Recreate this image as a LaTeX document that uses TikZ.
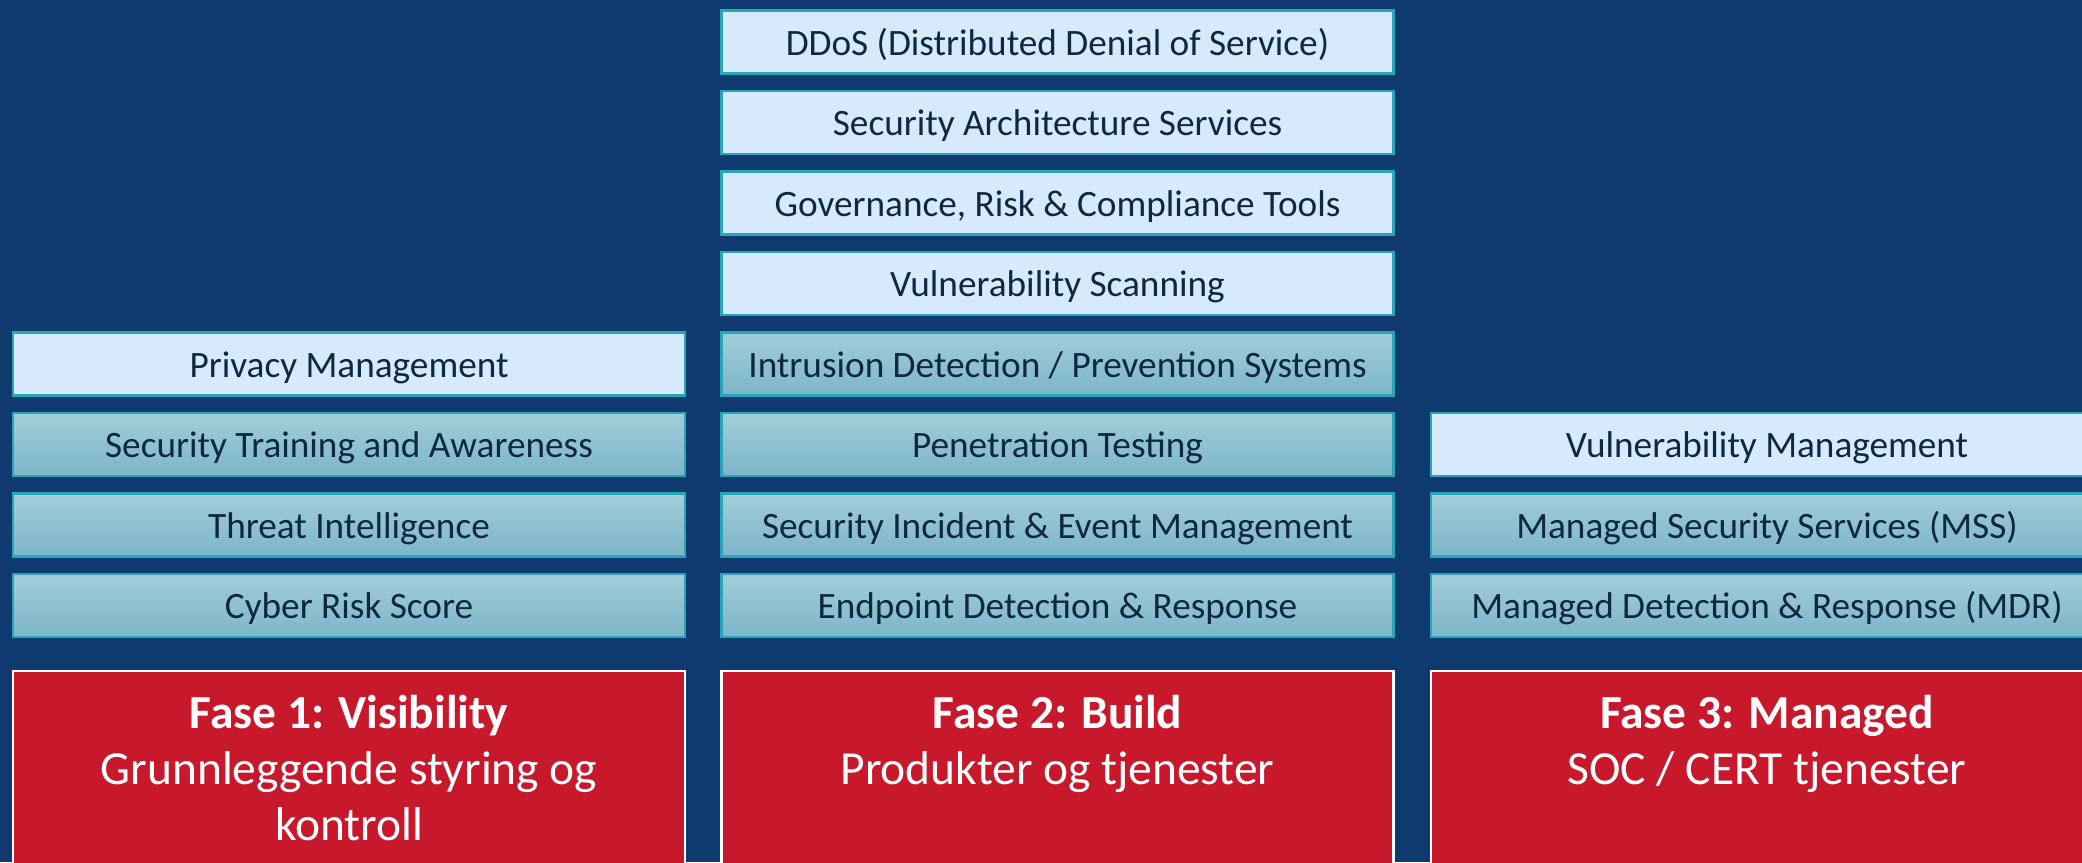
\documentclass[tikz,border=0pt]{standalone}
\usepackage{fontspec}
\setmainfont{Carlito}
\usetikzlibrary{positioning}
\definecolor{bgblue}{RGB}{14,58,112}
\definecolor{tilelight}{RGB}{214,234,252}
\definecolor{tiletop}{RGB}{162,205,217}
\definecolor{tilebottom}{RGB}{124,182,200}
\definecolor{tileedge}{RGB}{40,165,185}
\definecolor{tiletext}{RGB}{14,40,65}
\definecolor{faserot}{RGB}{200,24,44}
\tikzset{
	tile/.style={draw=tileedge, line width=0.8pt, minimum width=6.72cm, minimum height=0.63cm,
		inner sep=0pt, outer sep=0pt, text height=0.94em, text depth=0.2em, text=tiletext, font=\fontsize{10.6}{12}\selectfont},
	lighttile/.style={tile, fill=tilelight},
	darktile/.style={tile, top color=tiletop, bottom color=tilebottom},
	fase/.style={draw=white, line width=0.8pt, outer sep=0pt, fill=faserot, minimum width=6.72cm, minimum height=2.3cm, anchor=north},
	fasetext/.style={text=white, align=center, font=\fontsize{13.5}{16}\selectfont, anchor=north, inner sep=0pt}
}
\begin{document}
\begin{tikzpicture}
	\fill[bgblue] (0,0) rectangle (20.82,8.62);
	\useasboundingbox (0,0) rectangle (20.82,8.62);
	% phases
	\node[fase] (fase1) at (3.49,1.91) {};
	\node[fase] (fase2) at (10.575,1.91) {};
	\node[fase] (fase3) at (17.67,1.91) {};
	\node[fasetext, below=0.23cm of fase1.north] (fase1txt) {\textbf{Fase 1: Visibility}\\Grunnleggende styring og\\kontroll};
	\node[fasetext, below=0.23cm of fase2.north] (fase2txt) {\textbf{Fase 2: Build}\\Produkter og tjenester};
	\node[fasetext, below=0.23cm of fase3.north] (fase3txt) {\textbf{Fase 3: Managed}\\SOC / CERT tjenester};
	% Fase 1
	\node[darktile, above=0.34cm of fase1] (vis1) {Cyber Risk Score};
	\node[darktile, above=0.175cm of vis1] (vis2) {Threat Intelligence};
	\node[darktile, above=0.175cm of vis2] (vis3) {Security Training and Awareness};
	\node[lighttile, above=0.175cm of vis3] (vis4) {Privacy Management};
	% Fase 2
	\node[darktile, above=0.34cm of fase2] (bld1) {Endpoint Detection \& Response};
	\node[darktile, above=0.175cm of bld1] (bld2) {Security Incident \& Event Management};
	\node[darktile, above=0.175cm of bld2] (bld3) {Penetration Testing};
	\node[darktile, above=0.175cm of bld3] (bld4) {Intrusion Detection / Prevention Systems};
	\node[lighttile, above=0.175cm of bld4] (bld5) {Vulnerability Scanning};
	\node[lighttile, above=0.175cm of bld5] (bld6) {Governance, Risk \& Compliance Tools};
	\node[lighttile, above=0.175cm of bld6] (bld7) {Security Architecture Services};
	\node[lighttile, above=0.175cm of bld7] (bld8) {DDoS (Distributed Denial of Service)};
	% Fase 3
	\node[darktile, above=0.34cm of fase3] (mgd1) {Managed Detection \& Response (MDR)};
	\node[darktile, above=0.175cm of mgd1] (mgd2) {Managed Security Services (MSS)};
	\node[lighttile, above=0.175cm of mgd2] (mgd3) {Vulnerability Management};
\end{tikzpicture}
\end{document}
